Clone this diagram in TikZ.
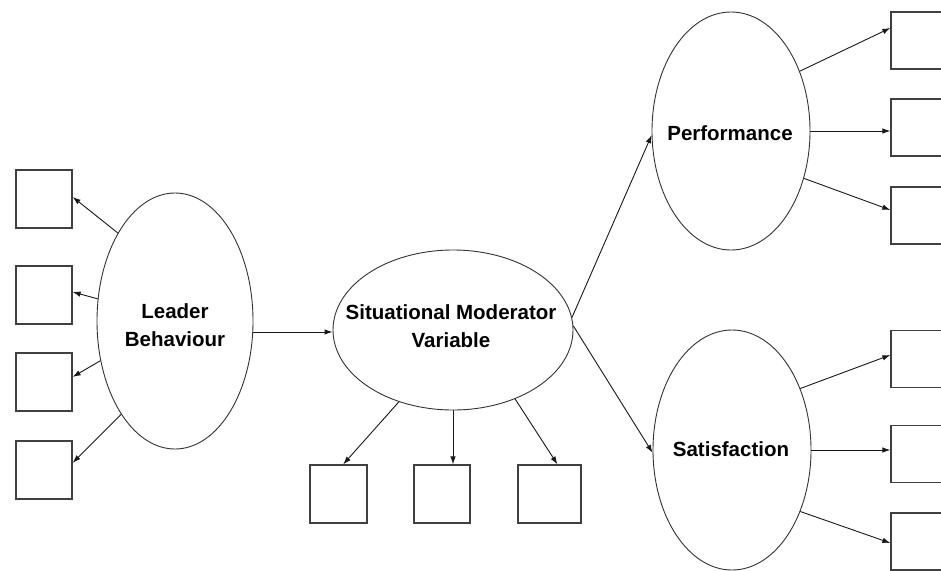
\documentclass[tikz,border=0pt]{standalone}
\usepackage{fontspec}
\setmainfont{Liberation Sans}
\usetikzlibrary{shapes.geometric,arrows.meta}
\begin{document}
\begin{tikzpicture}[x=1pt,y=-1pt,
  latent/.style={ellipse,draw=black!80,line width=0.9pt,inner sep=0pt},
  lbl/.style={align=center,inner sep=0pt,font=\bfseries\fontsize{20.5}{28}\selectfont},
  item/.style={rectangle,draw=black!75,line width=1.3pt,minimum width=56pt,minimum height=58pt,inner sep=0pt},
  arr/.style={draw=black!90,line width=0.9pt,-{Latex[length=8pt,width=5.5pt]}}]
\useasboundingbox (0,0) rectangle (941,570);
\fill[white] (0,0) rectangle (941,570);
\clip (0,0) rectangle (941,570);

% latent variables
\node[latent,minimum width=156pt,minimum height=256pt] (lb) at (175,321) {};
\node[latent,minimum width=240pt,minimum height=160pt] (smv) at (453,330) {};
\node[latent,minimum width=158pt,minimum height=238pt] (perf) at (731,131) {};
\node[latent,minimum width=158pt,minimum height=240pt] (sat) at (732,450) {};

\node[lbl] (lbt) at (175,325) {Leader\\Behaviour};
\node[lbl] (smvt) at (451,326) {Situational Moderator\\Variable};
\node[lbl] (perft) at (730,133) {Performance};
\node[lbl] (satt) at (731,449) {Satisfaction};

% indicators
\node[item] (l1) at (44,199) {};
\node[item] (l2) at (44,295) {};
\node[item] (l3) at (44,382) {};
\node[item] (l4) at (44,470) {};

\node[item,minimum width=57pt] (sb1) at (338.5,494) {};
\node[item] (sb2) at (442,494) {};
\node[item,minimum width=63pt] (sb3) at (549.5,494) {};

\node[item,minimum height=57pt] (r1) at (919,40.5) {};
\node[item,minimum height=57pt] (r2) at (919,127.5) {};
\node[item,minimum height=57pt] (r3) at (919,215.5) {};
\node[item,minimum height=57pt] (r4) at (919,359) {};
\node[item,minimum height=57pt] (r5) at (919,454) {};
\node[item,minimum height=57pt] (r6) at (919,541.5) {};

% paths
\draw[arr] (lb.123) -- (l1.4);
\draw[arr] (lb.164) -- (l2.6);
\draw[arr] (lb.208) -- (l3.10);
\draw[arr] (lb.240) -- (l4.14);

\draw[arr] (lb.-8) -- (lb.-8 -| smv.west);

\draw[arr] (smv.233) -- (sb1.81);
\draw[arr] (smv.south) -- (smv.south |- sb2.north);
\draw[arr] (smv.-48) -- (sb3.75);

\draw[arr] (smv.6) -- (perf.183);
\draw[arr] (smv.2) -- (sat.182);

\draw[arr] (perf.41) -- ([yshift=12.5pt]r1.west);
\draw[arr] (perf.east) -- (perf.east -| r2.west);
\draw[arr] (perf.-33) -- ([yshift=5.5pt]r3.west);
\draw[arr] (sat.42) -- ([yshift=4pt]r4.west);
\draw[arr] (sat.east) -- (sat.east -| r5.west);
\draw[arr] (sat.-42) -- ([yshift=-1.5pt]r6.west);
\end{tikzpicture}
\end{document}
